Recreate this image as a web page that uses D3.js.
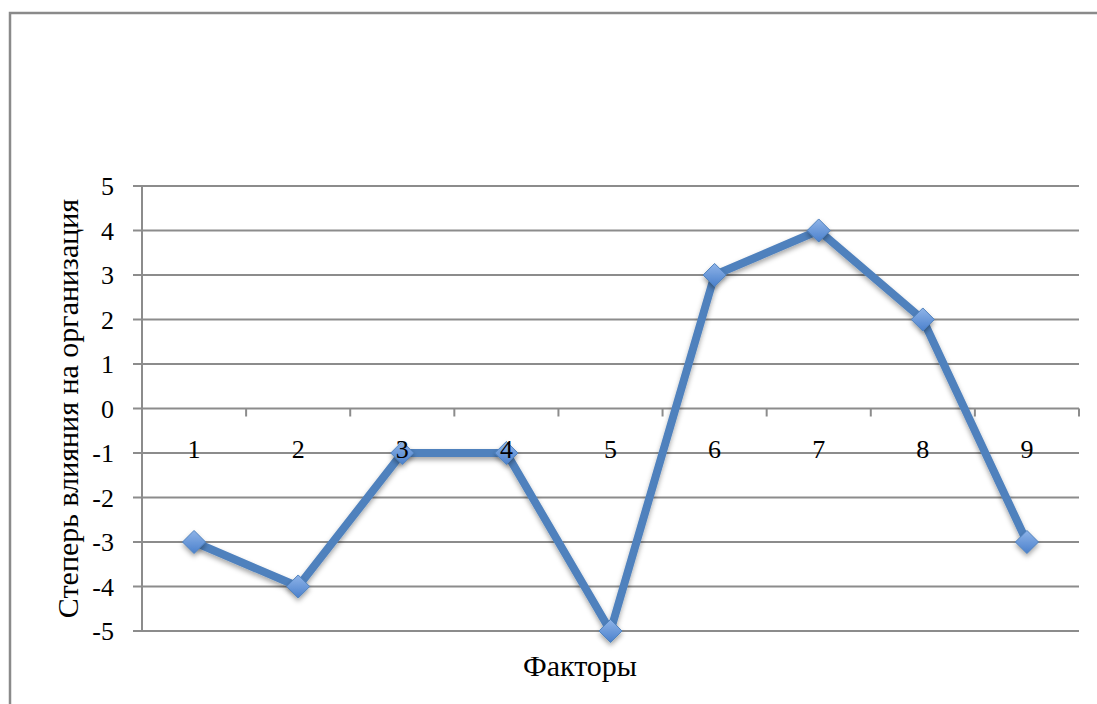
<!DOCTYPE html>
<html>
<head>
<meta charset="utf-8">
<script src="https://cdn.jsdelivr.net/npm/d3@7"></script>
<style>
  body { margin: 0; background: #fff; }
  svg { display: block; }
  text { font-family: "Liberation Serif", "DejaVu Serif", serif; fill: #000; }
</style>
</head>
<body>
<svg id="chart"></svg>
<script>
const categories = ["1", "2", "3", "4", "5", "6", "7", "8", "9"];
const values = [-3, -4, -1, -1, -5, 3, 4, 2, -3];
const yTicks = [-5, -4, -3, -2, -1, 0, 1, 2, 3, 4, 5];
const yTitle = "Степерь влияния на организация";
const xTitle = "Факторы";

const width = 1097, height = 704;
const svg = d3.select("#chart").attr("width", width).attr("height", height);

// frame of the chart area (only top and left edges visible)
svg.append("path")
  .attr("d", "M10,704 L10,13 L1097,13")
  .attr("fill", "none")
  .attr("stroke", "#8a8a8a")
  .attr("stroke-width", 2.5);

const plotLeft = 142, plotRight = 1079, plotTop = 186, plotBottom = 631;

const x = d3.scaleBand().domain(categories).range([plotLeft, plotRight]);
const y = d3.scaleLinear().domain([-5, 5]).range([plotBottom, plotTop]);

const gridColor = "#8c8c8c";

// horizontal gridlines with short ticks on the left
svg.append("g")
  .selectAll("line")
  .data(yTicks)
  .join("line")
  .attr("x1", plotLeft - 9)
  .attr("x2", plotRight)
  .attr("y1", d => y(d))
  .attr("y2", d => y(d))
  .attr("stroke", gridColor)
  .attr("stroke-width", 2);

// vertical axis
svg.append("line")
  .attr("x1", plotLeft).attr("x2", plotLeft)
  .attr("y1", plotTop).attr("y2", plotBottom)
  .attr("stroke", gridColor)
  .attr("stroke-width", 2);

// y tick labels
svg.append("g")
  .selectAll("text")
  .data(yTicks)
  .join("text")
  .attr("x", plotLeft - 28)
  .attr("y", d => y(d))
  .attr("dy", "0.35em")
  .attr("text-anchor", "end")
  .attr("font-size", 26)
  .text(d => d);

// category tick marks on the zero line
const boundaries = categories.slice(1).map(c => x(c)).concat([plotRight]);
svg.append("g")
  .selectAll("line")
  .data(boundaries)
  .join("line")
  .attr("x1", d => d).attr("x2", d => d)
  .attr("y1", y(0)).attr("y2", y(0) + 8)
  .attr("stroke", gridColor)
  .attr("stroke-width", 2);

// axis titles
svg.append("text")
  .attr("transform", `translate(78,${(plotTop + plotBottom) / 2}) rotate(-90)`)
  .attr("text-anchor", "middle")
  .attr("font-size", 30)
  .text(yTitle);

svg.append("text")
  .attr("x", 580)
  .attr("y", 676)
  .attr("text-anchor", "middle")
  .attr("font-size", 30)
  .text(xTitle);

// marker gradient and shadow
const defs = svg.append("defs");
const grad = defs.append("linearGradient")
  .attr("id", "mk")
  .attr("x1", 0).attr("y1", 0).attr("x2", 0).attr("y2", 1);
grad.append("stop").attr("offset", "0%").attr("stop-color", "#8fb4e8");
grad.append("stop").attr("offset", "100%").attr("stop-color", "#4a80cc");

const shadow = defs.append("filter").attr("id", "sh")
  .attr("x", "-50%").attr("y", "-50%").attr("width", "200%").attr("height", "200%");
shadow.append("feDropShadow")
  .attr("dx", 0).attr("dy", 3).attr("stdDeviation", 2.5)
  .attr("flood-color", "#000").attr("flood-opacity", 0.35);

const cx = (d, i) => x(categories[i]) + x.bandwidth() / 2;

const line = d3.line()
  .x((d, i) => cx(d, i))
  .y(d => y(d));

svg.append("path")
  .datum(values)
  .attr("d", line)
  .attr("fill", "none")
  .attr("stroke", "#4f81bd")
  .attr("stroke-width", 8)
  .attr("stroke-linejoin", "round")
  .attr("filter", "url(#sh)");

svg.append("g")
  .selectAll("path")
  .data(values)
  .join("path")
  .attr("d", d3.symbol(d3.symbolDiamond2, 340))
  .attr("transform", (d, i) => `translate(${cx(d, i)},${y(d)})`)
  .attr("fill", "url(#mk)")
  .attr("stroke", "#4f81bd")
  .attr("stroke-width", 1)
  .attr("filter", "url(#sh)");

// category labels, drawn above the series
svg.append("g")
  .selectAll("text")
  .data(categories)
  .join("text")
  .attr("x", d => x(d) + x.bandwidth() / 2)
  .attr("y", y(0) + 49)
  .attr("text-anchor", "middle")
  .attr("font-size", 26)
  .text(d => d);
</script>
</body>
</html>
